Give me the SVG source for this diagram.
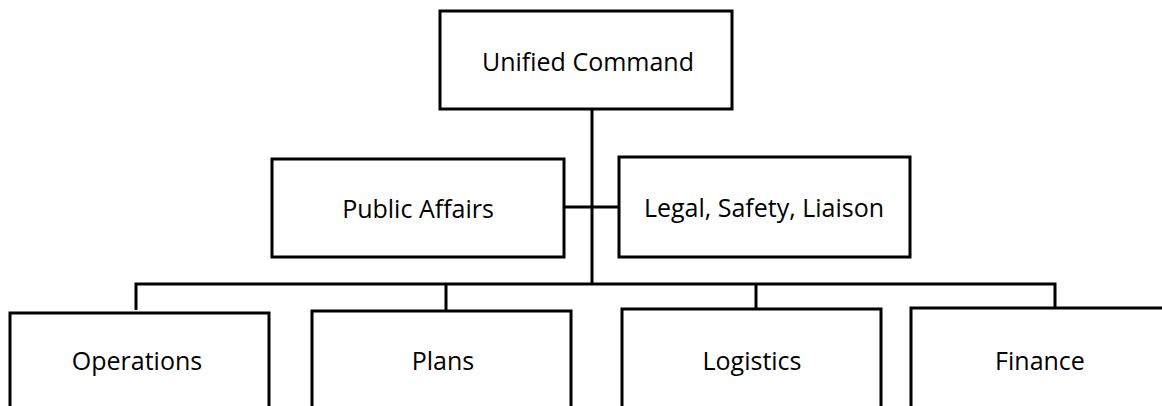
<svg xmlns="http://www.w3.org/2000/svg" width="1162" height="406" viewBox="0 0 1162 406">
<style>
.box{fill:#fff;stroke:#000;stroke-width:3}
.lbl{font-family:"Open Sans","Liberation Sans",sans-serif;font-size:25px;fill:#000;text-anchor:middle}
.con{fill:none;stroke:#000;stroke-width:3}
</style>
<rect width="1162" height="406" fill="#fff"/>
<g id="connectors">
<path class="con" d="M592,109 V284"/>
<path class="con" d="M564,207 H619"/>
<path class="con" d="M136,310 V284 H1055 V308"/>
<path class="con" d="M446,284 V310"/>
<path class="con" d="M756,284 V309"/>
</g>
<g id="unified-command">
<rect class="box" x="440" y="11" width="292" height="98"/>
<text class="lbl" x="588" y="71">Unified Command</text>
</g>
<g id="public-affairs">
<rect class="box" x="272" y="159" width="292" height="98"/>
<text class="lbl" x="418" y="218">Public Affairs</text>
</g>
<g id="legal-safety-liaison">
<rect class="box" x="619" y="157" width="291" height="100"/>
<text class="lbl" x="764" y="217">Legal, Safety, Liaison</text>
</g>
<g id="operations">
<rect class="box" x="10" y="313" width="259" height="120"/>
<text class="lbl" x="137" y="370">Operations</text>
</g>
<g id="plans">
<rect class="box" x="312" y="311" width="259" height="120"/>
<text class="lbl" x="443" y="370">Plans</text>
</g>
<g id="logistics">
<rect class="box" x="622" y="309" width="259" height="120"/>
<text class="lbl" x="752" y="370">Logistics</text>
</g>
<g id="finance">
<rect class="box" x="911" y="308" width="259" height="120"/>
<text class="lbl" x="1040" y="370">Finance</text>
</g>
</svg>
